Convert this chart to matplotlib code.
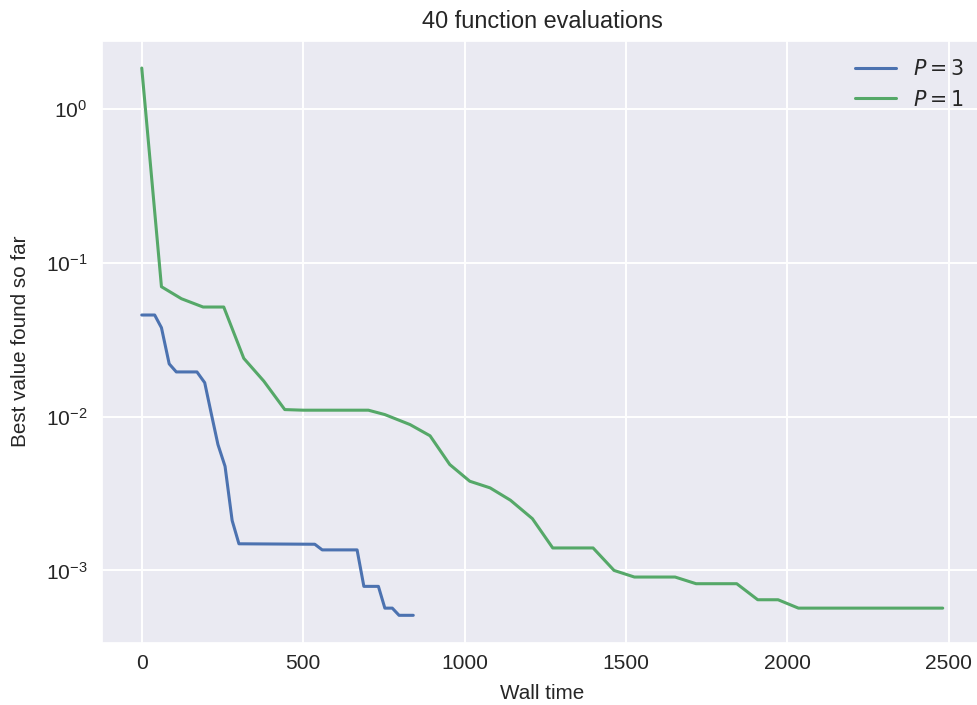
import matplotlib
matplotlib.use("Agg")
import matplotlib.pyplot as plt
import seaborn as sns

# Best value found so far vs. wall time (40 function evaluations)
time_p3 = [0, 40, 61, 85, 107, 171, 195, 216, 236, 258, 280, 301, 536, 559,
           667, 688, 733, 753, 776, 797, 841]
best_p3 = [0.0457, 0.0457, 0.0378, 0.0220, 0.0195, 0.0195, 0.0166, 0.0103,
           0.00658, 0.00475, 0.00211, 0.00149, 0.00148, 0.00136, 0.00136,
           0.000788, 0.000788, 0.000569, 0.000569, 0.000511, 0.000511]

time_p1 = [0, 61, 123, 190, 254, 316, 378, 443, 500, 702, 753, 831, 893, 954,
           1016, 1079, 1142, 1210, 1273, 1398, 1463, 1526, 1652, 1717, 1843,
           1908, 1971, 2034, 2481]
best_p1 = [1.84, 0.0698, 0.0583, 0.0515, 0.0515, 0.0239, 0.0170, 0.0111,
           0.0110, 0.0110, 0.0103, 0.00887, 0.0075, 0.00488, 0.00380, 0.00344,
           0.00286, 0.00217, 0.00140, 0.00140, 0.00100, 0.000906, 0.000906,
           0.000820, 0.000820, 0.000645, 0.000645, 0.000569, 0.000569]

series_labels = ["$P=3$", "$P=1$"]
title = "40 function evaluations"
xlabel = "Wall time"
ylabel = "Best value found so far"

sns.set_theme(style="darkgrid")
plt.rcParams["font.family"] = ["Liberation Sans", "DejaVu Sans"]
plt.rcParams["text.color"] = "#262626"
plt.rcParams["axes.labelcolor"] = "#262626"
plt.rcParams["xtick.color"] = "#262626"
plt.rcParams["ytick.color"] = "#262626"

fig = plt.figure(figsize=(9.77, 7.05), dpi=100)
ax = fig.add_axes([0.1041, 0.0884, 0.9018, 0.8539])

blue, green = sns.color_palette("deep")[0], sns.color_palette("deep")[2]
ax.plot(time_p3, best_p3, color=blue, lw=2.2, label=series_labels[0])
ax.plot(time_p1, best_p1, color=green, lw=2.2, label=series_labels[1])
ax.set_yscale("log")
ax.minorticks_off()
ax.grid(True, which="major", color="white", lw=1.4)

ax.tick_params(axis="x", labelsize=15.1, pad=8, length=0)
ax.tick_params(axis="y", labelsize=15.1, pad=10.2, length=0)
ax.set_xticks([0, 500, 1000, 1500, 2000, 2500])
ax.set_xlabel(xlabel, fontsize=14.9, labelpad=7.9)
ax.set_ylabel(ylabel, fontsize=14.9, labelpad=11.8)
ax.set_title(title, fontsize=16.9, pad=9)

ax.legend(loc="upper right", frameon=False, fontsize=14.9)

fig.savefig("out.png", dpi=100)
